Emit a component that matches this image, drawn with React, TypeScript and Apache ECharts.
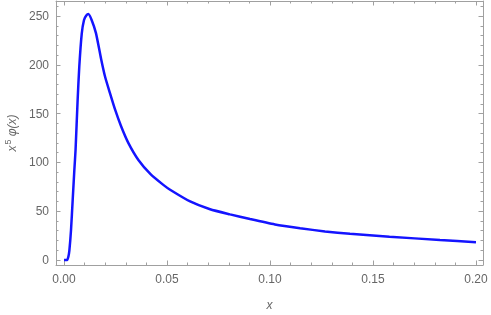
import React, { useEffect, useRef } from "react";
import * as echarts from "echarts";

const xValues = [
  0, 0.0015, 0.0021, 0.0026, 0.0034, 0.0042, 0.005, 0.0056, 0.0066, 0.0074,
  0.0086, 0.0097, 0.0108, 0.0118, 0.0134, 0.0155, 0.018, 0.0199, 0.0223, 0.0248,
  0.0277, 0.0312, 0.0361, 0.042, 0.0482, 0.0515, 0.0612, 0.0709, 0.0806, 0.0903,
  0.1024, 0.1146, 0.1267, 0.1388, 0.158, 0.1825, 0.2,
];
const yValues = [
  0, 0, 3.4, 10, 31, 61.5, 92, 113, 164, 198, 232, 246, 250.5, 252, 246, 232.5,
  206, 188, 171, 154, 137, 120, 102.5, 88, 77, 72, 60, 52, 46.8, 42, 36.5, 32.6,
  29.3, 26.8, 23.9, 20.5, 18.3,
];

const xMin = -0.0039;
const xMax = 0.2034;
const yMin = -5.1;
const yMax = 265.4;

const frameColor = "#a0a0a0";
const labelColor = "#666666";
const fontFamily = "'Liberation Sans', Arial, sans-serif";

export default function App() {
  const ref = useRef<HTMLDivElement>(null);
  useEffect(() => {
    if (!ref.current) return;
    const chart = echarts.init(ref.current, null, { renderer: "svg" });
    const tickCommon = (pos: string) => ({
      position: pos,
      axisLine: { show: true, onZero: true, onZeroAxisIndex: 2, lineStyle: { color: frameColor, width: 1 } },
      axisTick: { show: true, inside: true, length: 4.5, lineStyle: { color: frameColor, width: 1 } },
      minorTick: { show: true, splitNumber: 5, length: 2.5, lineStyle: { color: frameColor, width: 1 } },
      splitLine: { show: false },
      minorSplitLine: { show: false },
    });
    chart.setOption({
      animation: false,
      grid: {
        left: 56,
        right: 8,
        top: 1,
        bottom: 50,
        containLabel: false,
        outerBoundsMode: "none",
      },
      xAxis: [
        {
          type: "value",
          min: xMin,
          max: xMax,
          ...tickCommon("bottom"),
          axisLabel: {
            color: labelColor,
            fontSize: 12,
            fontFamily,
            margin: 8,
            showMinLabel: false,
            showMaxLabel: false,
            formatter: (v: number) => v.toFixed(2),
          },
          name: "x",
          nameLocation: "middle",
          nameGap: 34,
          nameTextStyle: { color: labelColor, fontSize: 12, fontStyle: "italic", fontFamily },
        },
        {
          type: "value",
          min: xMin,
          max: xMax,
          ...tickCommon("top"),
          axisLabel: { show: false },
        },
        { type: "value", min: 1, max: 2, show: false },
      ],
      yAxis: [
        {
          type: "value",
          min: yMin,
          max: yMax,
          ...tickCommon("left"),
          axisLabel: {
            color: labelColor,
            fontSize: 12,
            fontFamily,
            margin: 7,
            showMinLabel: false,
            showMaxLabel: false,
          },
          name: "{i|x}{s|5} {i|φ(x)}",
          nameLocation: "middle",
          nameGap: 32,
          nameTextStyle: {
            color: labelColor,
            fontSize: 12,
            fontFamily,
            rich: {
              i: { fontStyle: "italic", fontSize: 12, color: labelColor, fontFamily },
              s: { fontSize: 9, color: labelColor, fontFamily, padding: [0, 0, 8, 1] },
            },
          },
        },
        {
          type: "value",
          min: yMin,
          max: yMax,
          ...tickCommon("right"),
          axisLabel: { show: false },
        },
        { type: "value", min: 1, max: 2, show: false },
      ],
      series: [
        {
          type: "line",
          xAxisIndex: 0,
          yAxisIndex: 0,
          data: xValues.map((x, i) => [x, yValues[i]]),
          smooth: 0.2,
          showSymbol: false,
          symbol: "none",
          lineStyle: { color: "#1414ff", width: 2.5 },
        },
        {
          type: "line",
          xAxisIndex: 1,
          yAxisIndex: 1,
          data: [],
          showSymbol: false,
          symbol: "none",
        },
      ],
    });
    return () => chart.dispose();
  }, []);
  return (
    <div
      ref={ref}
      style={{ position: "fixed", left: 0, top: 0, width: 491, height: 315 }}
    />
  );
}
